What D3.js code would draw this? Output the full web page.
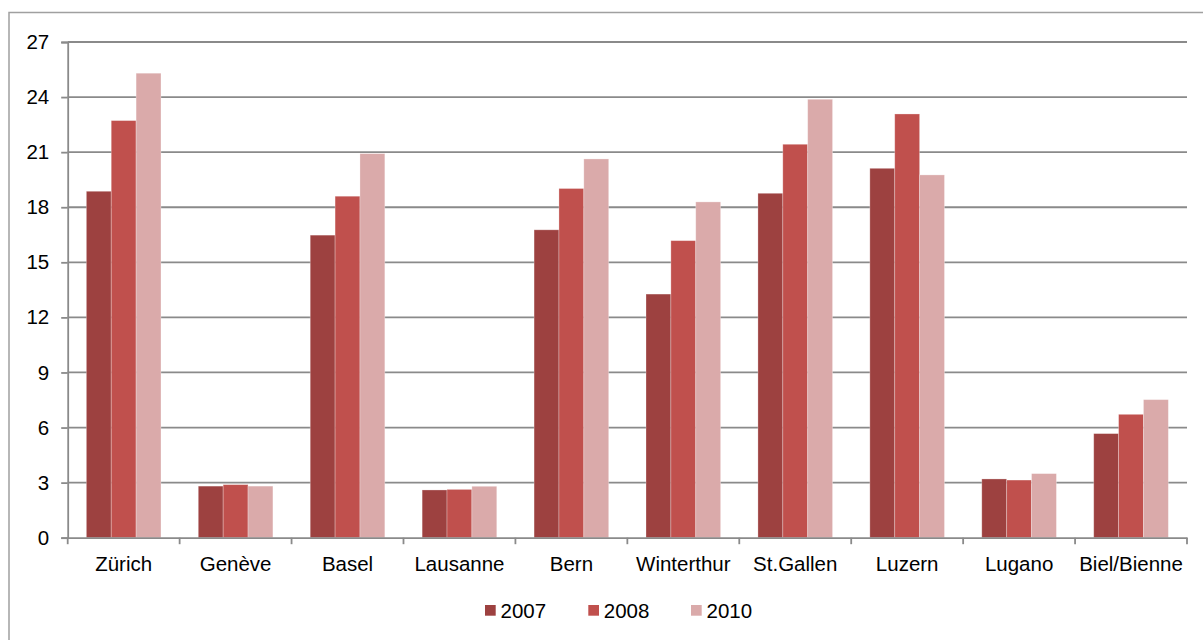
<!DOCTYPE html>
<html>
<head>
<meta charset="utf-8">
<script src="https://cdn.jsdelivr.net/npm/d3@7"></script>
<style>
  html, body { margin: 0; padding: 0; background: #fff; }
  svg { display: block; font-family: "Liberation Sans", Arial, sans-serif; }
</style>
</head>
<body>
<svg id="chart" width="1203" height="640"></svg>
<script>
const categories = ["Zürich", "Genève", "Basel", "Lausanne", "Bern", "Winterthur", "St.Gallen", "Luzern", "Lugano", "Biel/Bienne"];
const seriesNames = ["2007", "2008", "2010"];
const values2007 = [18.87, 2.81, 16.48, 2.60, 16.77, 13.27, 18.76, 20.12, 3.20, 5.67];
const values2008 = [22.72, 2.89, 18.60, 2.63, 19.02, 16.18, 21.43, 23.08, 3.14, 6.72];
const values2010 = [25.30, 2.81, 20.92, 2.80, 20.63, 18.29, 23.88, 19.76, 3.49, 7.52];
const yTicks = [0, 3, 6, 9, 12, 15, 18, 21, 24, 27];
const colors = ["#9d4140", "#c0504d", "#daaaaa"];

const series = [values2007, values2008, values2010];
const svg = d3.select("#chart");
const fontSize = "20.5px";

// outer chart frame (extends beyond the visible area on right/bottom)
svg.append("rect")
  .attr("x", 9).attr("y", 12.5).attr("width", 1230).attr("height", 660)
  .attr("fill", "none").attr("stroke", "#a0a0a0").attr("stroke-width", 1.5);

const plotLeft = 67.7, plotRight = 1187, plotTop = 42, plotBottom = 537.7;
const x = d3.scaleBand().domain(categories).range([plotLeft, plotRight]).paddingInner(0).paddingOuter(0);
const y = d3.scaleLinear().domain([0, 27]).range([plotBottom, plotTop]);

// gridlines
svg.append("g").selectAll("line").data(yTicks.filter(d => d > 0)).join("line")
  .attr("x1", plotLeft).attr("x2", plotRight)
  .attr("y1", d => y(d)).attr("y2", d => y(d))
  .attr("stroke", "#8a8a8a").attr("stroke-width", 1.8);

// bars
const barW = x.bandwidth() / 4.5;
const groupOff = (x.bandwidth() - 3 * barW) / 2;
const xs = d3.scaleBand().domain(seriesNames).range([0, 3 * barW]).padding(0);
seriesNames.forEach((s, si) => {
  svg.append("g").selectAll("rect").data(categories).join("rect")
    .attr("x", c => x(c) + groupOff + xs(s))
    .attr("y", (c, i) => y(series[si][i]))
    .attr("width", xs.bandwidth())
    .attr("height", (c, i) => y(0) - y(series[si][i]))
    .attr("fill", colors[si])
    .attr("stroke", "rgba(255,255,255,0.35)").attr("stroke-width", 0.8);
});

// y axis
const yAxis = d3.axisLeft(y).tickValues(yTicks).tickSize(6.5).tickPadding(12).tickFormat(d3.format("d"));
const gy = svg.append("g").attr("transform", `translate(${plotLeft},0)`).call(yAxis);
gy.select(".domain").attr("stroke", "#8a8a8a").attr("stroke-width", 1.8);
gy.selectAll(".tick line").attr("stroke", "#8a8a8a").attr("stroke-width", 1.8);
gy.selectAll(".tick text").attr("font-size", fontSize).attr("fill", "#000")
  .attr("font-family", "'Liberation Sans', Arial, sans-serif");

// x axis
const xAxis = d3.axisBottom(x).tickSize(0).tickPadding(19);
const gx = svg.append("g").attr("transform", `translate(0,${plotBottom})`).call(xAxis);
gx.select(".domain").attr("stroke", "#8a8a8a").attr("stroke-width", 1.8);
gx.selectAll(".tick text").attr("font-size", fontSize).attr("fill", "#000")
  .attr("font-family", "'Liberation Sans', Arial, sans-serif");
// category boundary tick marks
const bounds = categories.map(c => x(c)).concat([plotRight]);
gx.append("g").selectAll("line").data(bounds).join("line")
  .attr("x1", d => d).attr("x2", d => d).attr("y1", 0).attr("y2", 6.5)
  .attr("stroke", "#8a8a8a").attr("stroke-width", 1.8);

// legend
const legendX = [485, 588.3, 691];
const lg = svg.append("g");
seriesNames.forEach((s, i) => {
  lg.append("rect").attr("x", legendX[i]).attr("y", 605).attr("width", 10.7).attr("height", 10.7).attr("fill", colors[i]);
  lg.append("text").attr("x", legendX[i] + 15.5).attr("y", 617.8).attr("font-size", fontSize).attr("fill", "#000").text(s);
});
</script>
</body>
</html>
